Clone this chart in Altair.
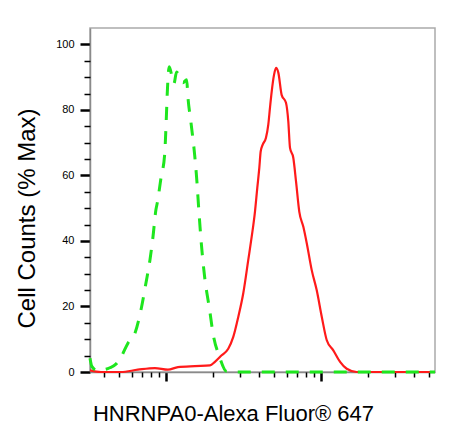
import altair as alt
import pandas as pd

# Red (stained) histogram: fluorescence intensity vs % max
red_x = [324, 381, 513, 659, 849, 1030, 1195, 1538, 1923, 2070, 2288, 2523, 2718, 2927,
         3155, 3396, 3573, 3750, 3882, 4000, 4083, 4207, 4416, 4571, 4688, 4808, 4977,
         5129, 5309, 5572, 5943, 6152, 6310, 6625, 6902, 7244, 7691, 8091, 8710, 9376,
         10115, 10890, 12000, 13270, 14650, 16990, 24040, 37500, 54300]
red_y = [0.5, 0.0, 0.0, 0.7, 1.2, 0.7, 1.5, 1.8, 2.0, 3.1, 5.1, 7.1, 10.7, 16.8,
         24.1, 34.2, 41.3, 48.9, 56.2, 62.3, 67.3, 69.4, 71.5, 75.5, 80.7, 85.6, 90.7,
         92.8, 91.3, 84.6, 82.2, 76.5, 68.4, 65.4, 58.1, 48.9, 44.3, 39.3, 31.1, 25.0,
         16.8, 9.7, 6.6, 3.1, 1.0, 0.0, 0.0, 0.0, 0.0]

# Green (isotype control) histogram
green_x = [324, 333, 359, 398, 435, 476, 513, 569, 631, 690, 743, 789, 825, 862, 882,
           929, 981, 1004, 1019, 1050, 1126, 1172, 1222, 1287, 1360, 1386, 1456, 1532,
           1585, 1626, 1690, 1777, 1914, 2010, 2221, 2456, 2999, 54300]
green_y = [4.2, 1.7, 0.5, 0.7, 1.3, 2.4, 4.5, 8.8, 11.8, 18.9, 27.1, 34.2, 41.2, 49.5, 51.9,
           59.2, 66.3, 76.4, 84.6, 93.2, 88.0, 91.6, 90.1, 88.3, 89.2, 84.0, 75.5, 66.3,
           58.0, 50.1, 39.4, 29.0, 18.9, 11.9, 4.5, 0.2, 0.0, 0.0]

x_major = [1000, 10000]
x_minor = [400, 500, 600, 700, 800, 900, 2000, 3000, 4000, 5000, 6000, 7000, 8000, 9000,
           20000, 30000, 40000, 50000]
y_major = [0, 20, 40, 60, 80, 100]
y_minor = [5, 10, 15, 25, 30, 35, 45, 50, 55, 65, 70, 75, 85, 90, 95]

red = pd.DataFrame({"x": red_x, "y": red_y})
green = pd.DataFrame({"x": green_x, "y": green_y})

FONT = "Liberation Sans"
xscale = alt.Scale(type="log", domain=[324, 54300], nice=False)
yscale = alt.Scale(domain=[0, 105], nice=False, zero=False)

red_layer = alt.Chart(red).mark_line(color="#ff1a1a", strokeWidth=2.2, interpolate="monotone").encode(
    x=alt.X("x:Q", scale=xscale, axis=alt.Axis(
        orient="bottom", values=x_major, labels=False, grid=False,
        tickSize=9, tickWidth=2.5, tickColor="black",
        domainColor="#8a8a8a", domainWidth=1.5,
        title="HNRNPA0-Alexa Fluor® 647", titleFont=FONT, titleFontSize=22,
        titleFontWeight="normal", titleColor="black",
        titleX=143, titleY=48, titleAlign="center", titleBaseline="alphabetic")),
    y=alt.Y("y:Q", scale=yscale, axis=alt.Axis(
        orient="left", values=y_major, grid=False,
        tickSize=10, tickWidth=2.5, tickColor="black",
        domainColor="#8a8a8a", domainWidth=1.5,
        labelFont=FONT, labelFontSize=11, labelColor="black", labelPadding=6,
        title="Cell Counts (% Max)", titleFont=FONT, titleFontSize=24,
        titleFontWeight="normal", titleColor="black",
        titleX=-63, titleY=190, titleAlign="center", titleBaseline="middle", titleAngle=270)),
)

green_layer = alt.Chart(green).mark_line(color="#1ee61e", strokeWidth=3, strokeDash=[13, 11],
                                         interpolate="monotone").encode(
    x=alt.X("x:Q", scale=xscale, title=None, axis=alt.Axis(
        orient="bottom", values=x_minor, labels=False, grid=False, domain=False,
        tickSize=5, tickWidth=1.5, tickColor="black")),
    y=alt.Y("y:Q", scale=yscale, title=None, axis=alt.Axis(
        orient="left", values=y_minor, labels=False, grid=False, domain=False,
        tickSize=6, tickWidth=1.5, tickColor="black")),
)

chart = alt.layer(red_layer, green_layer).resolve_axis(x="independent", y="independent").properties(
    width=345, height=344,
    padding={"left": 82, "top": 20, "right": 23, "bottom": 58},
    autosize=alt.AutoSizeParams(type="none"),
    background="white",
).configure_view(stroke="#aaaaaa", strokeWidth=1.5)

chart.save("out.html", embed_options={"renderer": "svg", "actions": False})
